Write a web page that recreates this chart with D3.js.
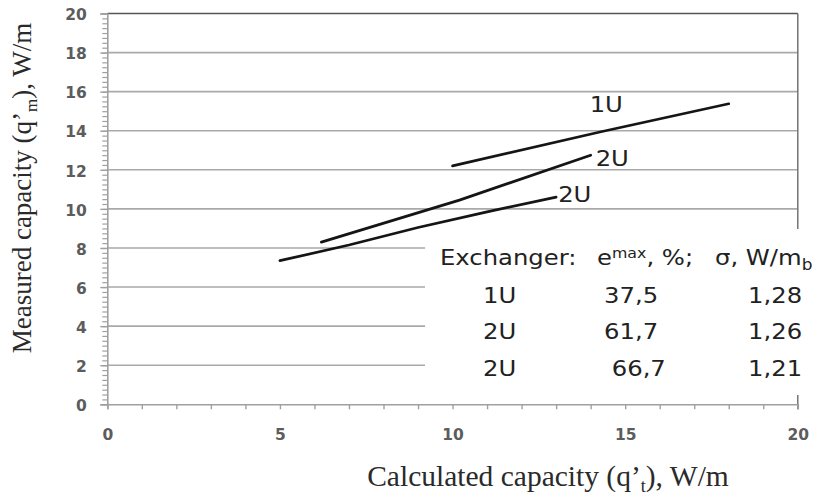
<!DOCTYPE html>
<html>
<head>
<meta charset="utf-8">
<script src="https://cdn.jsdelivr.net/npm/d3@7"></script>
<style>
  html, body { margin: 0; padding: 0; background: #fff; }
  svg { display: block; }
  .tbl { white-space: pre; }
</style>
</head>
<body>
<script>
// ---------- data ----------
const xTickValues = [0, 5, 10, 15, 20];
const yTickValues = [0, 2, 4, 6, 8, 10, 12, 14, 16, 18, 20];

const series1U_x  = [10.0, 14.3, 18.0];
const series1U_y  = [12.2, 13.95, 15.38];
const series2Ua_x = [6.2, 10.2, 14.0];
const series2Ua_y = [8.3, 10.45, 12.75];
const series2Ub_x = [5.0, 7.0, 9.0, 11.0, 13.0];
const series2Ub_y = [7.35, 8.15, 9.05, 9.85, 10.6];

const seriesNames = ["1U", "2U", "2U"];
const tableExchanger = ["1U", "2U", "2U"];
const tableEmax = ["37,5", "61,7", " 66,7"];
const tableSigma = ["1,28", "1,26", "1,21"];

// ---------- layout ----------
const W = 822, H = 495;
const svg = d3.select("body").append("svg").attr("width", W).attr("height", H);

const x = d3.scaleLinear().domain([0, 20]).range([107.3, 797.8]);
const y = d3.scaleLinear().domain([0, 20]).range([404.3, 13.5]);

// gridlines
svg.append("g").selectAll("line")
  .data(yTickValues.filter(v => v > 0 && v < 20))
  .join("line")
  .attr("x1", x(0)).attr("x2", x(20))
  .attr("y1", d => y(d)).attr("y2", d => y(d))
  .attr("stroke", "#a9a9a9").attr("stroke-width", 1.6);

// top and right border
svg.append("line").attr("x1", x(0)).attr("x2", x(20)).attr("y1", y(20)).attr("y2", y(20))
  .attr("stroke", "#555").attr("stroke-width", 1.6);
svg.append("line").attr("x1", x(20)).attr("x2", x(20)).attr("y1", y(20)).attr("y2", y(0) + 5)
  .attr("stroke", "#6a6a6a").attr("stroke-width", 1.4);

// y axis minor ticks
const yMinor = d3.axisLeft(y).tickValues(d3.range(0, 20.001, 0.25)).tickSize(5).tickFormat("");
const gyMinor = svg.append("g").attr("transform", `translate(${x(0)},0)`).call(yMinor);
gyMinor.select(".domain").remove();
gyMinor.selectAll("line").attr("stroke", "#a0a0a0").attr("stroke-width", 1.2);

// y axis major
const yAxis = d3.axisLeft(y).tickValues(yTickValues).tickSize(7).tickPadding(13.5).tickFormat(d3.format("d"));
const gy = svg.append("g").attr("transform", `translate(${x(0)},0)`).call(yAxis);
gy.select(".domain").attr("stroke", "#a0a0a0").attr("stroke-width", 1.6);
gy.selectAll("line").attr("stroke", "#a0a0a0").attr("stroke-width", 1.4);
gy.selectAll("text").attr("font-family", "DejaVu Sans").attr("font-size", 15.5).attr("font-weight", 600)
  .attr("fill", "#5c5c5c").attr("dy", "0.4em");

// x axis
const xAxis = d3.axisBottom(x).tickValues(d3.range(0, 20.001, 1)).tickSize(5).tickPadding(19.5)
  .tickFormat(d => xTickValues.includes(d) ? d3.format("d")(d) : "");
const gx = svg.append("g").attr("transform", `translate(0,${y(0)})`).call(xAxis);
gx.select(".domain").attr("stroke", "#a0a0a0").attr("stroke-width", 1.6);
gx.selectAll("line").attr("stroke", "#a0a0a0").attr("stroke-width", 1.4);
gx.selectAll("text").attr("font-family", "DejaVu Sans").attr("font-size", 15.5).attr("font-weight", 600)
  .attr("fill", "#5c5c5c");

// lines
const line = d3.line().x(d => x(d[0])).y(d => y(d[1]));
const allSeries = [
  d3.zip(series1U_x, series1U_y),
  d3.zip(series2Ua_x, series2Ua_y),
  d3.zip(series2Ub_x, series2Ub_y)
];
svg.append("g").selectAll("path").data(allSeries).join("path")
  .attr("d", line).attr("fill", "none").attr("stroke", "#151515")
  .attr("stroke-width", 2.7).attr("stroke-linecap", "round");

// stretched text helper (reference font is wider than DejaVu at equal height)
const SX = 1.13;
const tf = "DejaVu Sans", ts = 21.5, tc = "#222";
function stext(px, py, cls) {
  return svg.append("text").attr("class", cls || null)
    .attr("transform", `translate(${px},${py}) scale(${SX},1)`)
    .attr("font-family", tf).attr("font-size", ts).attr("fill", tc);
}

// series labels
stext(x(14.0) - 1, y(15.0) + 0.5).text(seriesNames[0]);
const e2a = allSeries[1][allSeries[1].length - 1];
stext(x(e2a[0]) + 5, y(e2a[1]) + 10.5).text(seriesNames[1]);
const e2b = allSeries[2][allSeries[2].length - 1];
stext(x(e2b[0]) + 2, y(e2b[1]) + 4.5).text(seriesNames[2]);

// table box
svg.append("rect").attr("x", 425).attr("y", 229).attr("width", W - 425).attr("height", 166).attr("fill", "#fff");

const hdrY = 265;
const rowY = [302.5, 338.5, 376];
const col1 = 483, col2 = 604, col3 = 748;
stext(440, hdrY).text("Exchanger:");
const h2 = stext(597, hdrY);
h2.append("tspan").text("e");
h2.append("tspan").text("max").attr("font-size", 14).attr("dy", -7);
h2.append("tspan").text(", %;").attr("dy", 7);
const h3 = stext(715, hdrY);
h3.append("tspan").text("σ, W/m");
h3.append("tspan").text("b").attr("font-size", 15).attr("dy", 5);

tableExchanger.forEach((v, i) => {
  stext(col1, rowY[i], "tbl").text(v);
  stext(col2, rowY[i], "tbl").text(tableEmax[i]);
  stext(col3, rowY[i], "tbl").text(tableSigma[i]);
});

// axis titles
const xt = svg.append("text").attr("x", 548).attr("y", 486).attr("text-anchor", "middle")
  .attr("font-family", "Liberation Serif").attr("font-size", 29.5).attr("fill", "#2a2a2a");
xt.append("tspan").text("Calculated capacity (q’");
xt.append("tspan").text("t").attr("font-size", 18).attr("dy", 6);
xt.append("tspan").text("), W/m").attr("dy", -6);

const yt = svg.append("text").attr("transform", "translate(31,188) rotate(-90)").attr("text-anchor", "middle")
  .attr("font-family", "Liberation Serif").attr("font-size", 27).attr("fill", "#2a2a2a");
yt.append("tspan").text("Measured capacity (q’");
yt.append("tspan").text("m").attr("font-size", 17).attr("dy", 6);
yt.append("tspan").text("), W/m").attr("dy", -6);
</script>
</body>
</html>
